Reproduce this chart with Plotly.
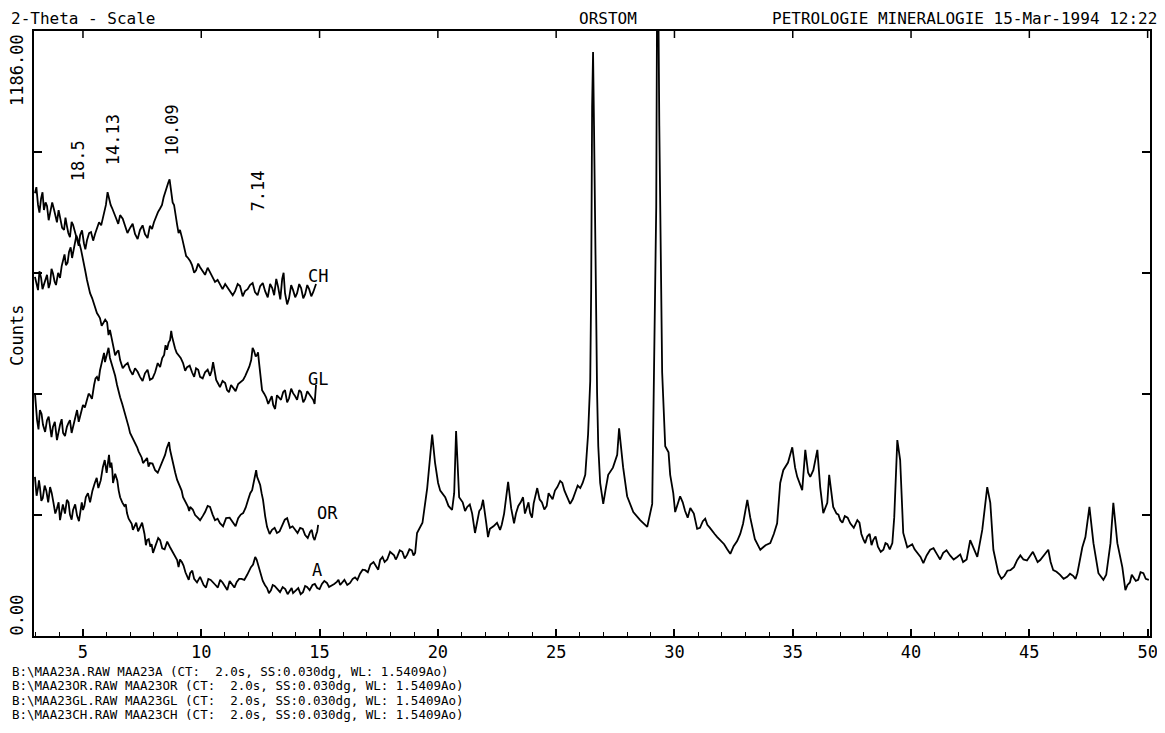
import math
import plotly.graph_objects as go

# ---------------- data ----------------
# sample A (full scan) - main readings
A_2theta = [2.97,3.10,3.18,3.30,3.45,3.61,3.75,3.90,4.03,4.15,4.32,4.45,4.58,4.75,4.90,5.00,5.12,5.30,5.50,5.65,5.84,6.00,6.10,6.20,6.27,6.45,6.57,6.75,6.86,7.00,7.11,7.25,7.41,7.60,7.71,7.85,7.96,8.10,8.26,8.45,8.68,8.85,8.98,9.10,9.25,9.40,9.53,9.70,9.95,10.10,10.30,10.50,10.70,10.90,11.10,11.30,11.50,11.70,11.94,12.10,12.28,12.40,12.49,12.60,12.78,12.95,13.10,13.33,13.55,13.75,13.88,14.10,14.30,14.47,14.70,14.90,15.10,15.31,15.50,15.73,15.87,16.05,16.29,16.50,16.71,16.93,17.15,17.40,17.56,17.75,17.98,18.15,18.28,18.50,18.70,18.90,19.04,19.12,19.35,19.55,19.67,19.76,19.88,20.01,20.10,20.31,20.45,20.60,20.69,20.77,20.90,21.05,21.24,21.45,21.57,21.75,21.91,22.05,22.12,22.35,22.63,22.80,22.97,23.10,23.22,23.40,23.60,23.75,23.90,24.05,24.20,24.40,24.60,24.75,24.95,25.17,25.35,25.59,25.80,26.02,26.23,26.35,26.44,26.48,26.52,26.56,26.60,26.65,26.70,26.73,26.78,26.86,26.99,27.10,27.20,27.40,27.58,27.66,27.75,27.83,28.00,28.26,28.55,28.85,29.06,29.14,29.23,29.27,29.31,29.36,29.40,29.48,29.61,29.75,29.82,29.95,30.03,30.24,30.45,30.67,30.96,31.20,31.39,31.60,31.81,32.10,32.36,32.65,32.90,33.08,33.20,33.40,33.63,33.85,34.05,34.20,34.34,34.47,34.60,34.80,34.98,35.10,35.19,35.40,35.53,35.65,35.74,35.87,36.04,36.16,36.29,36.46,36.54,36.71,36.85,37.01,37.20,37.43,37.73,37.90,38.06,38.25,38.40,38.60,38.83,39.00,39.21,39.29,39.42,39.54,39.67,39.84,40.05,40.26,40.52,40.81,41.10,41.36,41.65,41.95,42.20,42.50,42.80,43.01,43.22,43.35,43.48,43.69,43.95,44.20,44.49,44.75,45.04,45.25,45.46,45.80,46.01,46.30,46.60,46.85,47.03,47.24,47.37,47.54,47.71,47.92,48.13,48.43,48.55,48.72,48.93,49.06,49.25,49.40,49.60,49.82,50.05]
A_counts = [312,290,292,270,285,292,262,250,227,258,267,238,247,236,250,247,272,262,300,290,331,320,355,340,300,305,272,255,241,225,208,222,214,200,188,175,163,180,188,170,174,160,149,150,138,116,123,112,116,100,112,104,95,105,90,102,106,112,120,135,155,140,129,108,94,90,98,86,92,88,84,94,86,96,100,94,102,104,98,106,100,110,104,115,122,129,140,135,149,145,165,158,155,165,159,168,163,202,222,290,345,395,340,300,285,272,255,247,280,402,272,262,253,240,202,245,267,220,194,215,208,240,302,250,221,255,272,250,241,260,290,262,255,274,285,304,285,259,280,290,316,396,500,680,1037,1145,1000,841,600,476,372,300,259,290,316,330,355,407,360,331,274,243,227,214,259,517,841,1300,1300,1000,841,517,372,360,316,280,243,274,245,251,210,225,218,205,194,180,161,186,220,267,233,190,169,178,182,200,221,300,325,340,370,330,312,286,365,320,312,325,365,292,241,261,316,253,240,227,235,221,227,200,182,200,188,175,169,180,182,233,384,345,202,174,180,163,143,169,160,163,158,155,145,188,155,208,292,261,169,123,118,129,149,150,159,155,149,169,129,120,116,118,123,174,194,253,182,123,110,182,261,182,135,90,105,116,110,123,110]
# sample A - extra readings of the noise between the main readings (3-19 deg)
A_noise_2theta = [3.04,3.14,3.24,3.38,3.53,3.68,3.83,3.97,4.09,4.24,4.39,4.52,4.67,4.83,4.95,5.06,5.21,5.40,5.58,5.75,5.92,6.05,6.15,6.24,6.36,6.51,6.66,6.81,6.93,7.06,7.18,7.33,7.50,7.66,7.78,7.90,8.03,8.18,8.35,8.56,8.76,8.92,9.04,9.18,9.33,9.47,9.62,9.82,10.02,10.20,10.40,10.60,10.80,11.00,11.20,11.40,11.60,11.82,12.02,12.19,12.34,12.45,12.54,12.69,12.86,13.02,13.22,13.44,13.65,13.82,13.99,14.20,14.39,14.58,14.80,15.00,15.20,15.40,15.62,15.80,15.96,16.17,16.40,16.60,16.82,17.04,17.28,17.48,17.66,17.86,18.06,18.22,18.39,18.60,18.80,18.97]
A_noise_counts = [275,305,265,295,262,280,240,262,245,240,262,228,258,225,262,255,280,285,310,305,345,338,330,325,318,285,262,258,230,220,215,205,222,178,190,180,172,192,172,185,168,155,135,145,125,110,128,105,110,95,110,100,110,96,108,95,112,110,128,140,150,135,118,100,84,100,92,96,82,94,90,82,98,90,102,92,108,96,102,110,104,100,112,110,130,125,145,130,155,150,162,150,168,152,170,158]
# sample A - extra readings of the noise (21-50 deg)
A_noise_hi_2theta = [21.15,21.35,21.66,21.83,22.20,22.50,22.70,23.30,23.50,23.68,23.83,23.98,24.12,24.30,24.50,24.68,24.85,25.05,25.26,25.47,25.70,25.91,26.12,30.13,30.35,30.56,30.82,31.08,31.30,31.50,31.70,31.95,32.23,32.50,32.78,36.93,37.10,37.32,37.58,37.82,37.98,38.15,38.33,38.50,38.72,38.92,39.10,40.15,40.40,40.66,40.95,41.23,41.50,41.80,42.08,42.35,42.65,42.90,43.82,44.07,44.35,44.62,44.90,45.15,45.35,45.63,45.90,46.15,46.45,46.72,46.95,48.25,49.15,49.33,49.50,49.70,49.92]
A_noise_hi_counts = [245,258,225,250,210,222,218,240,262,240,262,232,275,268,248,280,268,292,300,270,268,295,300,258,262,232,240,212,230,212,200,188,170,176,200,238,222,232,212,222,190,195,178,195,165,182,170,170,155,158,172,150,168,150,160,150,170,180,112,128,135,158,148,165,145,160,145,126,112,122,112,120,100,120,108,125,112]

OR_2theta = [2.97,3.01,3.06,3.12,3.18,3.25,3.31,3.40,3.48,3.55,3.61,3.67,3.73,3.81,3.90,3.97,4.03,4.10,4.16,4.24,4.32,4.39,4.45,4.52,4.58,4.66,4.75,4.82,4.88,4.94,5.00,5.08,5.17,5.24,5.30,5.38,5.47,5.53,5.59,5.66,5.72,5.79,5.85,5.89,5.93,5.98,6.02,6.08,6.14,6.21,6.27,6.36,6.44,6.50,6.57,6.66,6.74,6.80,6.86,6.93,6.99,7.06,7.12,7.20,7.29,7.35,7.41,7.48,7.54,7.63,7.71,7.77,7.83,7.94,8.05,8.16,8.26,8.37,8.47,8.54,8.60,8.64,8.68,8.75,8.81,8.90,8.98,9.04,9.10,9.17,9.23,9.34,9.44,9.49,9.53,9.64,9.74,9.85,9.95,10.06,10.16,10.27,10.37,10.48,10.58,10.69,10.79,10.92,11.05,11.20,11.34,11.45,11.56,11.67,11.77,11.88,11.98,12.07,12.15,12.21,12.27,12.32,12.36,12.43,12.49,12.55,12.61,12.70,12.78,12.89,12.99,13.10,13.20,13.31,13.42,13.53,13.63,13.69,13.75,13.86,13.96,14.07,14.18,14.29,14.39,14.50,14.60,14.67,14.73,14.79,14.85,14.90,14.94]
OR_counts = [476,440,423,405,443,435,414,400,423,430,404,390,410,420,384,405,414,425,398,392,410,418,423,398,410,428,443,420,433,440,453,448,463,475,472,465,492,505,508,500,521,538,547,555,537,545,555,565,545,535,527,510,492,480,468,455,443,430,423,410,398,392,384,378,370,362,355,350,339,345,349,332,339,338,325,320,331,345,355,368,374,380,365,350,335,320,306,300,292,285,272,262,253,245,253,248,237,232,227,235,243,255,253,238,227,230,221,215,231,232,221,215,231,238,241,252,267,280,286,300,316,325,312,305,296,280,267,235,214,200,208,212,202,205,218,228,231,222,212,215,208,202,212,210,198,192,204,208,194,188,198,205,218]

GL_2theta = [2.97,3.03,3.10,3.16,3.23,3.29,3.35,3.42,3.48,3.55,3.61,3.67,3.73,3.80,3.86,3.95,4.03,4.10,4.16,4.22,4.28,4.35,4.41,4.48,4.54,4.60,4.66,4.72,4.79,4.86,4.92,4.98,5.04,5.10,5.17,5.24,5.30,5.39,5.47,5.53,5.59,5.66,5.72,5.79,5.85,5.94,6.02,6.08,6.14,6.21,6.27,6.36,6.44,6.50,6.57,6.68,6.78,6.89,6.99,7.10,7.20,7.31,7.41,7.52,7.62,7.73,7.83,7.94,8.05,8.16,8.26,8.35,8.43,8.49,8.55,8.62,8.68,8.73,8.77,8.83,8.89,8.96,9.02,9.13,9.23,9.32,9.40,9.51,9.61,9.70,9.78,9.87,9.95,10.06,10.16,10.27,10.37,10.44,10.50,10.57,10.63,10.71,10.79,10.90,11.01,11.09,11.17,11.26,11.34,11.45,11.56,11.67,11.77,11.86,11.94,12.03,12.11,12.17,12.23,12.30,12.36,12.40,12.44,12.50,12.57,12.66,12.74,12.83,12.91,12.98,13.04,13.12,13.20,13.29,13.37,13.46,13.54,13.63,13.71,13.80,13.88,13.97,14.05,14.14,14.22,14.31,14.39,14.48,14.56,14.65,14.73,14.79,14.85]
GL_counts = [704,690,678,715,702,680,688,700,708,682,692,720,711,695,688,712,702,725,737,748,727,732,753,762,741,755,770,785,776,768,757,745,727,715,698,680,672,662,649,640,633,628,623,608,613,620,615,590,600,582,566,550,557,560,541,525,531,535,521,512,525,518,508,500,515,522,502,505,517,535,527,545,551,570,561,575,580,598,586,572,564,555,551,545,535,520,527,530,517,508,525,522,508,505,517,522,510,520,537,515,502,495,488,500,496,482,478,492,486,480,494,498,502,510,517,528,541,565,559,548,551,556,537,510,482,475,468,455,463,470,453,445,472,468,463,478,482,458,466,485,476,470,463,482,478,458,465,480,474,470,463,455,492]

CH_2theta = [2.97,3.03,3.10,3.16,3.23,3.29,3.35,3.42,3.48,3.55,3.61,3.70,3.78,3.84,3.90,3.97,4.03,4.12,4.20,4.26,4.32,4.38,4.45,4.52,4.58,4.67,4.75,4.82,4.88,4.96,5.04,5.10,5.17,5.26,5.34,5.43,5.51,5.60,5.68,5.77,5.85,5.91,5.97,6.04,6.10,6.17,6.23,6.32,6.40,6.49,6.57,6.68,6.78,6.88,6.99,7.10,7.20,7.31,7.41,7.52,7.62,7.73,7.83,7.92,8.00,8.08,8.17,8.26,8.34,8.41,8.47,8.54,8.60,8.66,8.72,8.79,8.85,8.92,8.98,9.04,9.10,9.19,9.27,9.36,9.44,9.53,9.61,9.70,9.78,9.87,9.95,10.06,10.16,10.27,10.37,10.48,10.58,10.69,10.79,10.90,11.01,11.12,11.22,11.33,11.43,11.54,11.64,11.75,11.85,11.96,12.06,12.17,12.27,12.38,12.49,12.60,12.70,12.81,12.91,13.00,13.08,13.17,13.25,13.34,13.42,13.48,13.54,13.63,13.71,13.80,13.88,13.97,14.05,14.14,14.22,14.31,14.39,14.48,14.56,14.65,14.73,14.79,14.85]
CH_counts = [868,880,845,830,858,870,835,850,843,815,829,850,835,825,811,835,819,800,796,820,804,790,782,812,806,790,776,765,786,795,770,758,776,790,792,775,788,800,811,805,819,832,845,870,858,845,839,830,819,808,825,818,804,790,800,808,788,778,796,805,788,780,804,798,811,822,831,838,845,860,870,878,888,895,870,850,845,828,806,790,796,780,760,745,741,735,727,712,717,730,723,715,708,722,713,700,694,698,688,680,690,682,674,668,676,690,686,666,676,680,688,692,674,668,686,692,676,664,690,682,668,700,684,660,700,712,672,650,662,688,678,664,672,690,682,662,670,688,680,666,674,684,690]

curve_names = ["A", "OR", "GL", "CH"]
label_pos = {"CH": (14.43, 706), "GL": (14.43, 504), "OR": (14.81, 241), "A": (14.60, 129)}

d_spacings = [18.5, 14.13, 10.09, 7.14]          # Angstrom
d_label_bottoms = [888, 919, 939, 829]            # counts where each label starts
wavelength = 1.5409

y_max = 1186.0
x_ticks = [5, 10, 15, 20, 25, 30, 35, 40, 45, 50]

header_left = "2-Theta - Scale"
header_org = "ORSTOM"
header_right = "PETROLOGIE MINERALOGIE 15-Mar-1994 12:22"
footer_lines = [
    "B:\\MAA23A.RAW MAA23A (CT:  2.0s, SS:0.030dg, WL: 1.5409Ao)",
    "B:\\MAA23OR.RAW MAA23OR (CT:  2.0s, SS:0.030dg, WL: 1.5409Ao)",
    "B:\\MAA23GL.RAW MAA23GL (CT:  2.0s, SS:0.030dg, WL: 1.5409Ao)",
    "B:\\MAA23CH.RAW MAA23CH (CT:  2.0s, SS:0.030dg, WL: 1.5409Ao)",
]

# ---------------- layout helpers ----------------
# The page body adds an 8px offset; frame target (window px): x 34..1150, y 31..636
OFF = 8
W, H = 1165, 733
FX0, FX1, FY0, FY1 = 34, 1150, 31, 636
L, T = FX0 - OFF, FY0 - OFF
R, B = W - (FX1 - OFF), H - (FY1 - OFF)
PW, PH = FX1 - FX0, FY1 - FY0
FONT = "DejaVu Sans Mono"

def xp(px):
    return (px - FX0) / PW

def yp(py):
    return (FY1 - py) / PH

A_all = sorted(zip(A_2theta + A_noise_2theta + A_noise_hi_2theta,
                   A_counts + A_noise_counts + A_noise_hi_counts))
series = {
    "A": ([p[0] for p in A_all], [p[1] for p in A_all]),
    "OR": (OR_2theta, OR_counts),
    "GL": (GL_2theta, GL_counts),
    "CH": (CH_2theta, CH_counts),
}

fig = go.Figure()
for name in curve_names:
    xs, ys = series[name]
    fig.add_trace(go.Scatter(x=xs, y=ys, mode="lines", name=name,
                             line=dict(color="black", width=1.8),
                             hoverinfo="x+y+name"))

ann = []
txt = dict(family=FONT, size=17, color="black")
for name in curve_names:
    lx, ly = label_pos[name]
    ann.append(dict(x=lx, y=ly, xref="x", yref="y", text=name, showarrow=False,
                    xanchor="left", yanchor="middle", font=txt))

for d, yb in zip(d_spacings, d_label_bottoms):
    tth = 2 * math.degrees(math.asin(wavelength / (2 * d)))
    lab = ("%.2f" % d).rstrip("0")
    ann.append(dict(x=tth, y=yb, xref="x", yref="y", text=lab, showarrow=False,
                    textangle=-90, xanchor="center", yanchor="bottom", font=txt))

hdr = dict(family=FONT, size=16, color="black")
for text, px, anchor in [(header_left, 10, "left"), (header_org, 578, "left"),
                         (header_right, 1158, "right")]:
    ann.append(dict(x=xp(px), y=yp(OFF), xref="paper", yref="paper", text=text,
                    showarrow=False, xanchor=anchor, yanchor="top", borderpad=0,
                    font=hdr))

ann.append(dict(x=xp(17), y=yp(32), xref="paper", yref="paper", text="%.2f" % y_max,
                showarrow=False, textangle=-90, xanchor="center", yanchor="top", font=txt))
ann.append(dict(x=xp(17), y=yp(638), xref="paper", yref="paper", text="0.00",
                showarrow=False, textangle=-90, xanchor="center", yanchor="bottom", font=txt))
ann.append(dict(x=xp(17), y=yp(336), xref="paper", yref="paper", text="Counts",
                showarrow=False, textangle=-90, xanchor="center", yanchor="middle", font=txt))

for i, line in enumerate(footer_lines):
    ann.append(dict(x=xp(10), y=yp(671 + i * 14.6), xref="paper", yref="paper", text=line,
                    showarrow=False, xanchor="left", yanchor="middle",
                    font=dict(family=FONT, size=12.5, color="black")))

# top-edge major ticks (the frame's top only carries the 5-degree marks)
shapes = []
for v in x_ticks:
    shapes.append(dict(type="line", xref="x", yref="paper", x0=v, x1=v,
                       y0=1, y1=1 - 7 / PH, line=dict(color="black", width=1.5)))

fig.update_layout(
    width=W, height=H,
    margin=dict(l=L, r=R, t=T, b=B, pad=0, autoexpand=False),
    paper_bgcolor="white", plot_bgcolor="white",
    showlegend=False,
    annotations=ann, shapes=shapes,
    xaxis=dict(range=[2.93, 50.1], tickmode="array", tickvals=x_ticks,
               ticks="inside", ticklen=7, tickwidth=1.5, tickcolor="black",
               showline=True, linecolor="black", linewidth=2, mirror=True,
               showgrid=False, zeroline=False, automargin=False,
               tickfont=dict(family=FONT, size=17, color="black"),
               minor=dict(dtick=1, tick0=0, ticks="inside", ticklen=4,
                          tickwidth=1.2, tickcolor="black", showgrid=False)),
    yaxis=dict(range=[0, y_max], tickmode="array",
               tickvals=[y_max * k / 5 for k in range(6)],
               ticks="inside", ticklen=8, tickwidth=1.5, tickcolor="black",
               showticklabels=False, automargin=False,
               showline=True, linecolor="black", linewidth=2, mirror="ticks",
               showgrid=False, zeroline=False),
)

fig.write_html("out.html")
